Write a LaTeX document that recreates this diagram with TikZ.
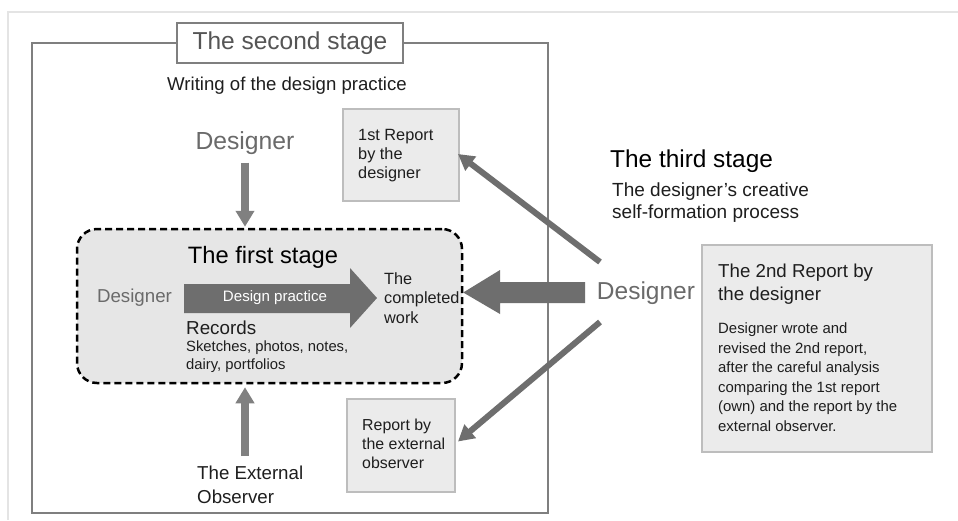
\documentclass[tikz,border=0pt]{standalone}
\usepackage{fontspec}
\setmainfont{Liberation Sans}
\usetikzlibrary{arrows.meta}
\definecolor{framegray}{HTML}{7F7F7F}
\definecolor{titlegray}{HTML}{555555}
\definecolor{desgray}{HTML}{6A6A6A}
\definecolor{arrowgray}{HTML}{6E6E6E}
\definecolor{varrowgray}{HTML}{808080}
\definecolor{boxfill}{HTML}{EBEBEB}
\definecolor{boxline}{HTML}{BDBDBD}
\definecolor{dashfill}{HTML}{E6E6E6}
\definecolor{faint}{HTML}{E4E4E4}
\definecolor{txtdark}{HTML}{1E1E1E}
\newcommand{\fsz}[2]{\fontsize{#1}{#2}\selectfont}
\begin{document}
\begin{tikzpicture}[x=1pt,y=-1pt,
  txt/.style={inner sep=0pt, text=txtdark},
  gtxt/.style={inner sep=0pt, text=desgray},
  rbox/.style={draw=boxline, line width=2pt, fill=boxfill, inner sep=0pt},
  varrow/.style={draw=varrowgray, line width=8pt, -{Triangle[length=16pt,width=18pt]}},
  darrow/.style={draw=arrowgray, line width=6pt, -{Triangle[length=16pt,width=17pt]}},
  bigarrow/.style={fill=arrowgray}
]
\useasboundingbox (0,0) rectangle (958,520);
\fill[white] (0,0) rectangle (958,520);
\draw[faint, line width=1.5pt] (8,520) -- (8,12) -- (958,12);

% second stage frame
\draw[framegray, line width=2pt] (32,43) rectangle (548,513);
\node[draw=framegray, line width=2pt, fill=white, minimum width=226pt, minimum height=40pt, inner sep=0pt, text=titlegray, font=\fsz{24.5}{29}] (second) at (290,43) {The second stage};
\node[txt, font=\fsz{18.6}{22}] (writing) at (287,86) {Writing of the design practice};

% first stage
\node[draw=black, dashed, dash pattern=on 7pt off 4pt, line width=2.5pt, fill=dashfill, rounded corners=20pt, minimum width=385pt, minimum height=154pt, inner sep=0pt] (first) at (269.5,306) {};
\node[txt, text=black, font=\fsz{23.7}{28}] (firsttitle) at (263,257) {The first stage};
\node[gtxt, font=\fsz{18.7}{22}] (des2) at (134.5,298) {Designer};
\fill[bigarrow] (184,284) -- (350,284) -- (350,268) -- (377,298) -- (350,328) -- (350,313) -- (184,313) -- cycle;
\node[inner sep=0pt, text=white, font=\fsz{15.1}{18}] (dp) at (275,298) {Design practice};
\node[txt, anchor=west, align=left, font=\fsz{16.3}{19.7}] (completed) at (384,298) {The\\completed\\work};
\node[txt, anchor=west, font=\fsz{18.8}{22}] (records) at (186,328) {Records};
\node[txt, anchor=west, align=left, font=\fsz{14.8}{18}] (sketches) at (186,356.5) {Sketches, photos, notes,\\dairy, portfolios};

% designer on top
\node[gtxt, font=\fsz{24.7}{29}] (des1) at (245,143) {Designer};
\draw[varrow] ([yshift=-8pt]des1.south) -- ([yshift=1pt]des1.south |- first.north);

% external observer
\node[txt, anchor=west, align=left, font=\fsz{18.7}{24}] (ext) at (197,485) {The External\\Observer};
\coordinate (extTop) at (245,456);
\draw[varrow] (extTop) -- ([yshift=-3pt]extTop |- first.south);

% report boxes
\node[rbox, minimum width=116pt, minimum height=92pt] (rep1) at (401,155) {};
\node[txt, anchor=west, align=left, font=\fsz{16.3}{19}] (rep1txt) at (358,156) {1st Report\\by the\\designer};
\node[rbox, minimum width=108pt, minimum height=93pt] (rep2) at (401,445.5) {};
\node[txt, anchor=west, align=left, font=\fsz{15.9}{19}] (rep2txt) at (362,444) {Report by\\the external\\observer};

% third stage
\node[txt, anchor=west, text=black, font=\fsz{24.4}{29}] (third) at (610,161) {The third stage};
\node[txt, anchor=west, align=left, font=\fsz{19}{21.5}] (thirdsub) at (612,202.5) {The designer's creative\\self-formation process};
\node[gtxt, font=\fsz{24.5}{29}] (des3) at (646,293) {Designer};
\coordinate (d3up) at (600,262);
\coordinate (d3down) at (600,322);
\coordinate (d3left) at (585,292.5);
\draw[darrow] (d3up) -- ([xshift=-2pt,yshift=1pt]rep1.east);
\draw[darrow] (d3down) -- ([xshift=2pt,yshift=4pt]rep2.east);
\fill[bigarrow] (d3left) -- (585,282) -- (500,282) -- (500,270) -- (first.east |- d3left) -- (500,314) -- (500,303) -- (585,303) -- cycle;

% second report
\node[rbox, minimum width=230pt, minimum height=207pt] (rep3) at (817,348.5) {};
\node[txt, anchor=west, align=left, font=\fsz{18.7}{22.5}] (rep3title) at (718,284) {The 2nd Report by\\the designer};
\node[txt, anchor=west, align=left, font=\fsz{14.9}{19.5}] (rep3body) at (718,377) {Designer wrote and\\revised the 2nd report,\\after the careful analysis\\comparing the 1st report\\(own) and the report by the\\external observer.};
\end{tikzpicture}
\end{document}
